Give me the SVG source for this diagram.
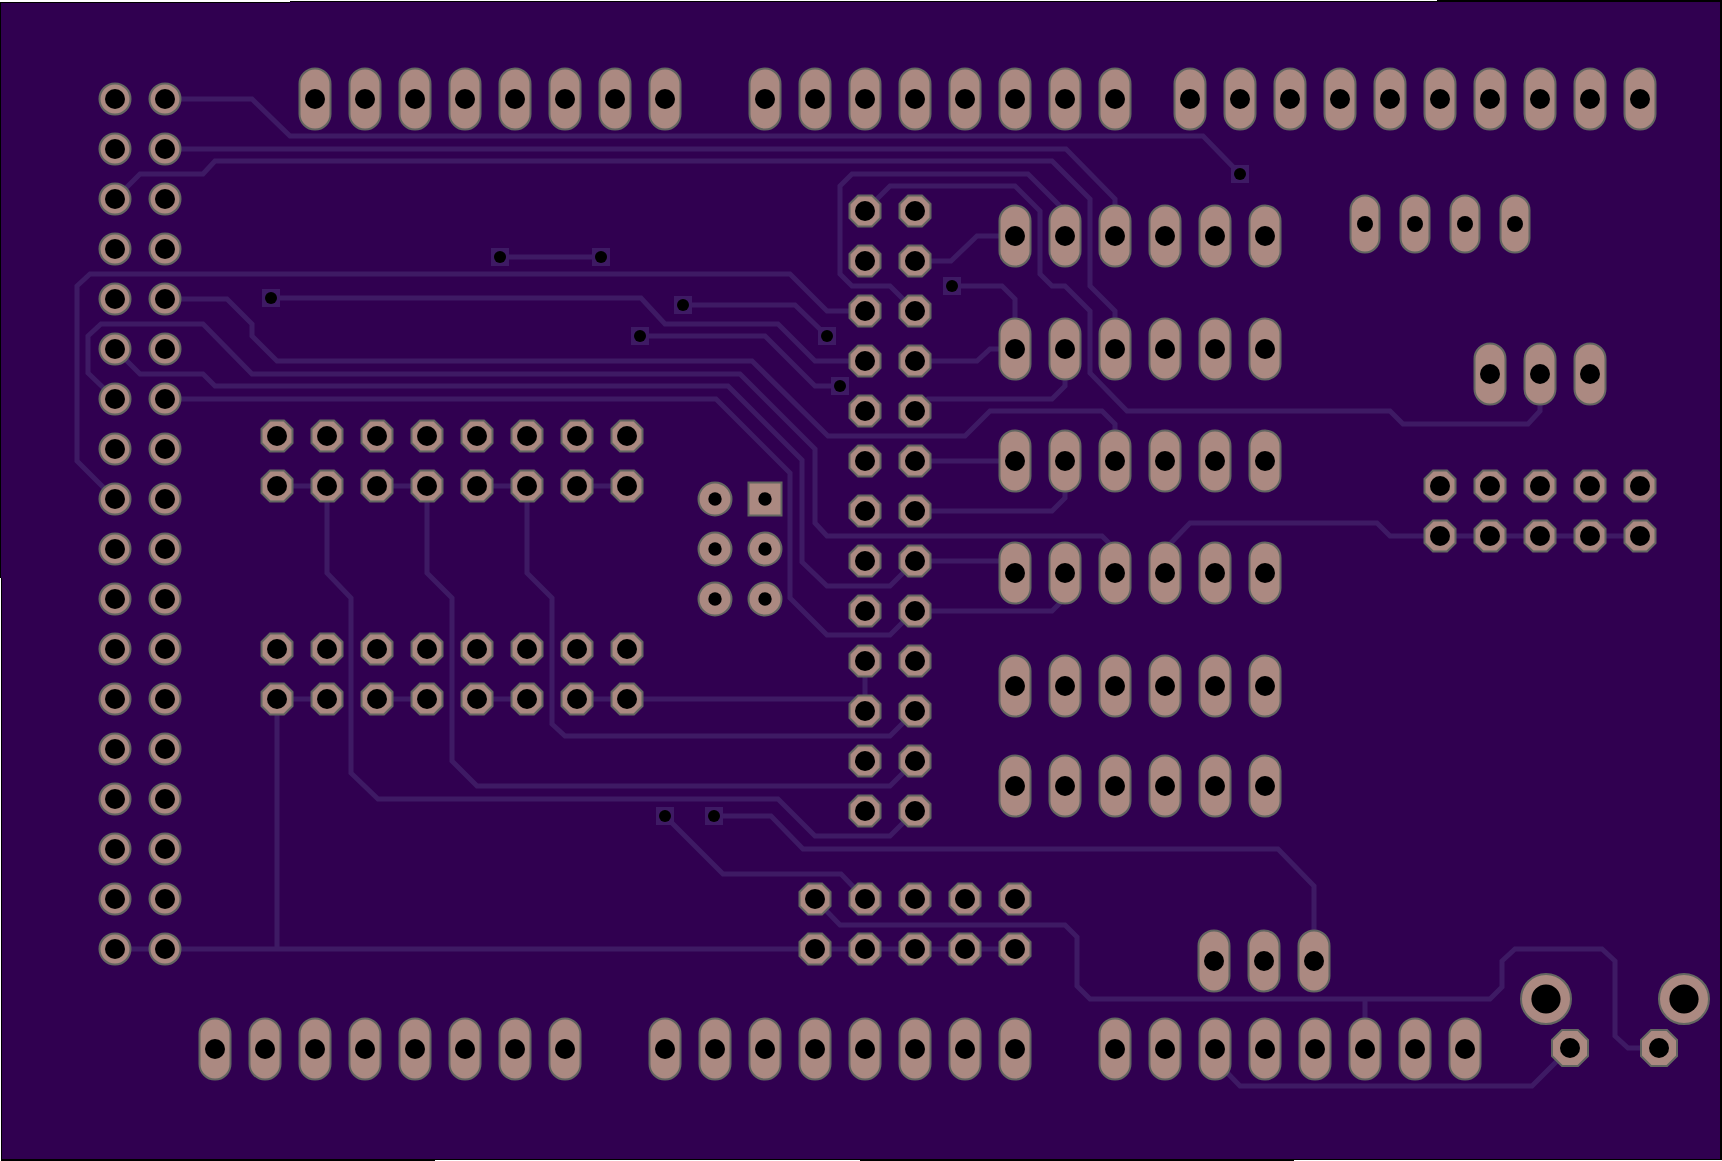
<svg xmlns="http://www.w3.org/2000/svg" xmlns:xlink="http://www.w3.org/1999/xlink" width="1722" height="1161" viewBox="0 0 1722 1161">
<style>
.t{fill:none;stroke:#3e1a64;stroke-width:5;stroke-linejoin:miter}
.p{fill:#ab8981;stroke:#636661;stroke-width:2}
.h{fill:#000}
.v{fill:#3e1a64}
</style>
<defs>
<g id="rnd"><circle class="p" r="15.5"/><circle class="h" r="10"/></g>
<g id="oct"><polygon class="p" points="-7,-15.5 7,-15.5 15.5,-7 15.5,7 7,15.5 -7,15.5 -15.5,7 -15.5,-7"/><circle class="h" r="10"/></g>
<g id="ova"><rect class="p" x="-15.5" y="-30.5" width="31" height="61" rx="15.5" ry="15.5"/><circle class="h" r="10"/></g>
<g id="ovs"><rect class="p" x="-14.5" y="-28.5" width="29" height="57" rx="14.5" ry="14.5"/><circle class="h" r="8"/></g>
<g id="sml"><circle class="p" r="16.5"/><circle class="h" r="6.7"/></g>
<g id="sqr"><rect class="p" x="-16.5" y="-16.5" width="33" height="33"/><circle class="h" r="6.7"/></g>
<g id="big"><circle class="p" r="25"/><circle class="h" r="14.6"/></g>
<g id="lct"><polygon class="p" points="-8,-18 8,-18 18,-8 18,8 8,18 -8,18 -18,8 -18,-8"/><circle class="h" r="10"/></g>
<g id="via"><rect class="v" x="-9" y="-9" width="18" height="18"/><circle class="h" r="6"/></g>
</defs>
<rect width="1722" height="1161" fill="#fff"/>
<g id="board">
<rect x="0" y="2" width="290" height="576" fill="#000"/>
<rect x="290" y="1" width="570" height="577" fill="#000"/>
<rect x="860" y="1" width="577" height="577" fill="#000"/>
<rect x="1437" y="0" width="285" height="578" fill="#000"/>
<rect x="1" y="577" width="434" height="584" fill="#000"/>
<rect x="435" y="578" width="425" height="582" fill="#000"/>
<rect x="860" y="578" width="434" height="583" fill="#000"/>
<rect x="1294" y="578" width="428" height="582" fill="#000"/>
<rect x="1" y="3" width="289" height="575" fill="#300050"/>
<rect x="290" y="2" width="1430" height="576" fill="#300050"/>
<rect x="2" y="577" width="1718" height="582" fill="#300050"/>
</g>
<g id="connectors">
<path class="t" d="M165,99H252L290,136H1203L1240,174"/>
<path class="t" d="M165,149H1066L1115,199V236"/>
<path class="t" d="M115,199L140,174H203L215,161H1052L1090,199V286L1115,311V349"/>
<path class="t" d="M915,311L890,286H852L840,274V186L852,174H1028L1065,211V236"/>
<path class="t" d="M865,211L890,186H1015L1040,211V274L1052,286H1065L1090,311V373L1127,411H1390L1403,424H1528L1540,411V374"/>
<path class="t" d="M915,261H951L977,236H1015"/>
<path class="t" d="M952,286H1002L1015,299V349"/>
<path class="t" d="M915,361H977L990,349H1015"/>
<path class="t" d="M915,411L928,399H1052L1065,386V349"/>
<path class="t" d="M165,299H227L252,324V336L277,361H752L828,436H965L990,411H1102L1115,424V461"/>
<path class="t" d="M115,399L88,373V336L101,324H203L252,374H740L815,449V523L827,536H1102L1115,549V573"/>
<path class="t" d="M115,349L140,374H203L215,386H728L802,460V562L827,586H890L915,561"/>
<path class="t" d="M165,399H716L790,473V598L827,635H890L915,610"/>
<path class="t" d="M115,499L77,461V286L90,274H790L827,311H865"/>
<path class="t" d="M271,298H641L665,324H778L815,361H865"/>
<path class="t" d="M683,305H795L827,336"/>
<path class="t" d="M640,336H765L815,386H840"/>
<path class="t" d="M500,257H601"/>
<path class="t" d="M277,486H327M377,486H427M477,486H527M577,486H627"/>
<path class="t" d="M277,699H327M377,699H427M477,699H527M577,699H865"/>
<path class="t" d="M327,486V573L351,598V773L378,799H778L815,836H890L915,811"/>
<path class="t" d="M427,486V573L452,598V761L477,786H890L915,761"/>
<path class="t" d="M527,486V573L552,598V724L565,736H890L915,711"/>
<path class="t" d="M865,661V711"/>
<path class="t" d="M915,611H1052L1065,598V573"/>
<path class="t" d="M915,561H1015"/>
<path class="t" d="M915,461H1015"/>
<path class="t" d="M915,511H1052L1065,498V461"/>
<path class="t" d="M1165,549L1190,523H1377L1390,536H1640"/>
<path class="t" d="M115,949H1015"/>
<path class="t" d="M277,699V949"/>
<path class="t" d="M815,899L840,925H1065L1077,937V986L1090,999H1490L1502,987V961L1515,949H1602L1615,961V1036L1628,1048H1659"/>
<path class="t" d="M1365,999V1049"/>
<path class="t" d="M1215,1060L1240,1086H1532L1570,1048"/>
<path class="t" d="M714,816H771L803,849H1278L1314,886V961"/>
<path class="t" d="M665,816L723,874H841L865,899"/>
</g>
<g id="J1">
<use href="#rnd" x="115" y="99"/><use href="#rnd" x="165" y="99"/>
<use href="#rnd" x="115" y="149"/><use href="#rnd" x="165" y="149"/>
<use href="#rnd" x="115" y="199"/><use href="#rnd" x="165" y="199"/>
<use href="#rnd" x="115" y="249"/><use href="#rnd" x="165" y="249"/>
<use href="#rnd" x="115" y="299"/><use href="#rnd" x="165" y="299"/>
<use href="#rnd" x="115" y="349"/><use href="#rnd" x="165" y="349"/>
<use href="#rnd" x="115" y="399"/><use href="#rnd" x="165" y="399"/>
<use href="#rnd" x="115" y="449"/><use href="#rnd" x="165" y="449"/>
<use href="#rnd" x="115" y="499"/><use href="#rnd" x="165" y="499"/>
<use href="#rnd" x="115" y="549"/><use href="#rnd" x="165" y="549"/>
<use href="#rnd" x="115" y="599"/><use href="#rnd" x="165" y="599"/>
<use href="#rnd" x="115" y="649"/><use href="#rnd" x="165" y="649"/>
<use href="#rnd" x="115" y="699"/><use href="#rnd" x="165" y="699"/>
<use href="#rnd" x="115" y="749"/><use href="#rnd" x="165" y="749"/>
<use href="#rnd" x="115" y="799"/><use href="#rnd" x="165" y="799"/>
<use href="#rnd" x="115" y="849"/><use href="#rnd" x="165" y="849"/>
<use href="#rnd" x="115" y="899"/><use href="#rnd" x="165" y="899"/>
<use href="#rnd" x="115" y="949"/><use href="#rnd" x="165" y="949"/>
</g>
<g id="top-a">
<use href="#ova" x="315" y="99"/><use href="#ova" x="365" y="99"/><use href="#ova" x="415" y="99"/><use href="#ova" x="465" y="99"/><use href="#ova" x="515" y="99"/><use href="#ova" x="565" y="99"/><use href="#ova" x="615" y="99"/><use href="#ova" x="665" y="99"/>
</g>
<g id="top-b">
<use href="#ova" x="765" y="99"/><use href="#ova" x="815" y="99"/><use href="#ova" x="865" y="99"/><use href="#ova" x="915" y="99"/><use href="#ova" x="965" y="99"/><use href="#ova" x="1015" y="99"/><use href="#ova" x="1065" y="99"/><use href="#ova" x="1115" y="99"/>
</g>
<g id="top-c">
<use href="#ova" x="1190" y="99"/><use href="#ova" x="1240" y="99"/><use href="#ova" x="1290" y="99"/><use href="#ova" x="1340" y="99"/><use href="#ova" x="1390" y="99"/><use href="#ova" x="1440" y="99"/><use href="#ova" x="1490" y="99"/><use href="#ova" x="1540" y="99"/><use href="#ova" x="1590" y="99"/><use href="#ova" x="1640" y="99"/>
</g>
<g id="bottom-a">
<use href="#ova" x="215" y="1049"/><use href="#ova" x="265" y="1049"/><use href="#ova" x="315" y="1049"/><use href="#ova" x="365" y="1049"/><use href="#ova" x="415" y="1049"/><use href="#ova" x="465" y="1049"/><use href="#ova" x="515" y="1049"/><use href="#ova" x="565" y="1049"/>
</g>
<g id="bottom-b">
<use href="#ova" x="665" y="1049"/><use href="#ova" x="715" y="1049"/><use href="#ova" x="765" y="1049"/><use href="#ova" x="815" y="1049"/><use href="#ova" x="865" y="1049"/><use href="#ova" x="915" y="1049"/><use href="#ova" x="965" y="1049"/><use href="#ova" x="1015" y="1049"/>
</g>
<g id="bottom-c">
<use href="#ova" x="1115" y="1049"/><use href="#ova" x="1165" y="1049"/><use href="#ova" x="1215" y="1049"/><use href="#ova" x="1265" y="1049"/><use href="#ova" x="1315" y="1049"/><use href="#ova" x="1365" y="1049"/><use href="#ova" x="1415" y="1049"/><use href="#ova" x="1465" y="1049"/>
</g>
<g id="mid-a">
<use href="#oct" x="277" y="436"/><use href="#oct" x="327" y="436"/><use href="#oct" x="377" y="436"/><use href="#oct" x="427" y="436"/><use href="#oct" x="477" y="436"/><use href="#oct" x="527" y="436"/><use href="#oct" x="577" y="436"/><use href="#oct" x="627" y="436"/>
<use href="#oct" x="277" y="486"/><use href="#oct" x="327" y="486"/><use href="#oct" x="377" y="486"/><use href="#oct" x="427" y="486"/><use href="#oct" x="477" y="486"/><use href="#oct" x="527" y="486"/><use href="#oct" x="577" y="486"/><use href="#oct" x="627" y="486"/>
</g>
<g id="mid-b">
<use href="#oct" x="277" y="649"/><use href="#oct" x="327" y="649"/><use href="#oct" x="377" y="649"/><use href="#oct" x="427" y="649"/><use href="#oct" x="477" y="649"/><use href="#oct" x="527" y="649"/><use href="#oct" x="577" y="649"/><use href="#oct" x="627" y="649"/>
<use href="#oct" x="277" y="699"/><use href="#oct" x="327" y="699"/><use href="#oct" x="377" y="699"/><use href="#oct" x="427" y="699"/><use href="#oct" x="477" y="699"/><use href="#oct" x="527" y="699"/><use href="#oct" x="577" y="699"/><use href="#oct" x="627" y="699"/>
</g>
<g id="isp">
<use href="#sml" x="715" y="499"/><use href="#sqr" x="765" y="499"/>
<use href="#sml" x="715" y="549"/><use href="#sml" x="765" y="549"/>
<use href="#sml" x="715" y="599"/><use href="#sml" x="765" y="599"/>
</g>
<g id="J2">
<use href="#oct" x="865" y="211"/><use href="#oct" x="915" y="211"/>
<use href="#oct" x="865" y="261"/><use href="#oct" x="915" y="261"/>
<use href="#oct" x="865" y="311"/><use href="#oct" x="915" y="311"/>
<use href="#oct" x="865" y="361"/><use href="#oct" x="915" y="361"/>
<use href="#oct" x="865" y="411"/><use href="#oct" x="915" y="411"/>
<use href="#oct" x="865" y="461"/><use href="#oct" x="915" y="461"/>
<use href="#oct" x="865" y="511"/><use href="#oct" x="915" y="511"/>
<use href="#oct" x="865" y="561"/><use href="#oct" x="915" y="561"/>
<use href="#oct" x="865" y="611"/><use href="#oct" x="915" y="611"/>
<use href="#oct" x="865" y="661"/><use href="#oct" x="915" y="661"/>
<use href="#oct" x="865" y="711"/><use href="#oct" x="915" y="711"/>
<use href="#oct" x="865" y="761"/><use href="#oct" x="915" y="761"/>
<use href="#oct" x="865" y="811"/><use href="#oct" x="915" y="811"/>
</g>
<g id="J3">
<use href="#oct" x="815" y="899"/><use href="#oct" x="865" y="899"/><use href="#oct" x="915" y="899"/><use href="#oct" x="965" y="899"/><use href="#oct" x="1015" y="899"/>
<use href="#oct" x="815" y="949"/><use href="#oct" x="865" y="949"/><use href="#oct" x="915" y="949"/><use href="#oct" x="965" y="949"/><use href="#oct" x="1015" y="949"/>
</g>
<g id="grid-6x6">
<use href="#ova" x="1015" y="236"/><use href="#ova" x="1065" y="236"/><use href="#ova" x="1115" y="236"/><use href="#ova" x="1165" y="236"/><use href="#ova" x="1215" y="236"/><use href="#ova" x="1265" y="236"/>
<use href="#ova" x="1015" y="349"/><use href="#ova" x="1065" y="349"/><use href="#ova" x="1115" y="349"/><use href="#ova" x="1165" y="349"/><use href="#ova" x="1215" y="349"/><use href="#ova" x="1265" y="349"/>
<use href="#ova" x="1015" y="461"/><use href="#ova" x="1065" y="461"/><use href="#ova" x="1115" y="461"/><use href="#ova" x="1165" y="461"/><use href="#ova" x="1215" y="461"/><use href="#ova" x="1265" y="461"/>
<use href="#ova" x="1015" y="573"/><use href="#ova" x="1065" y="573"/><use href="#ova" x="1115" y="573"/><use href="#ova" x="1165" y="573"/><use href="#ova" x="1215" y="573"/><use href="#ova" x="1265" y="573"/>
<use href="#ova" x="1015" y="686"/><use href="#ova" x="1065" y="686"/><use href="#ova" x="1115" y="686"/><use href="#ova" x="1165" y="686"/><use href="#ova" x="1215" y="686"/><use href="#ova" x="1265" y="686"/>
<use href="#ova" x="1015" y="786"/><use href="#ova" x="1065" y="786"/><use href="#ova" x="1115" y="786"/><use href="#ova" x="1165" y="786"/><use href="#ova" x="1215" y="786"/><use href="#ova" x="1265" y="786"/>
</g>
<g id="small-4">
<use href="#ovs" x="1365" y="224"/><use href="#ovs" x="1415" y="224"/><use href="#ovs" x="1465" y="224"/><use href="#ovs" x="1515" y="224"/>
</g>
<g id="right-3">
<use href="#ova" x="1490" y="374"/><use href="#ova" x="1540" y="374"/><use href="#ova" x="1590" y="374"/>
</g>
<g id="J4">
<use href="#oct" x="1440" y="486"/><use href="#oct" x="1490" y="486"/><use href="#oct" x="1540" y="486"/><use href="#oct" x="1590" y="486"/><use href="#oct" x="1640" y="486"/>
<use href="#oct" x="1440" y="536"/><use href="#oct" x="1490" y="536"/><use href="#oct" x="1540" y="536"/><use href="#oct" x="1590" y="536"/><use href="#oct" x="1640" y="536"/>
</g>
<g id="low-3">
<use href="#ova" x="1214" y="961"/><use href="#ova" x="1264" y="961"/><use href="#ova" x="1314" y="961"/>
</g>
<g id="terminal">
<use href="#big" x="1546" y="999"/><use href="#big" x="1684" y="999"/>
<use href="#lct" x="1570" y="1048"/><use href="#lct" x="1659" y="1048"/>
</g>
<g id="vias">
<use href="#via" x="500" y="257"/><use href="#via" x="601" y="257"/><use href="#via" x="271" y="298"/>
<use href="#via" x="683" y="305"/><use href="#via" x="640" y="336"/><use href="#via" x="827" y="336"/>
<use href="#via" x="840" y="386"/><use href="#via" x="1240" y="174"/><use href="#via" x="952" y="286"/>
<use href="#via" x="665" y="816"/><use href="#via" x="714" y="816"/>
</g>
</svg>
